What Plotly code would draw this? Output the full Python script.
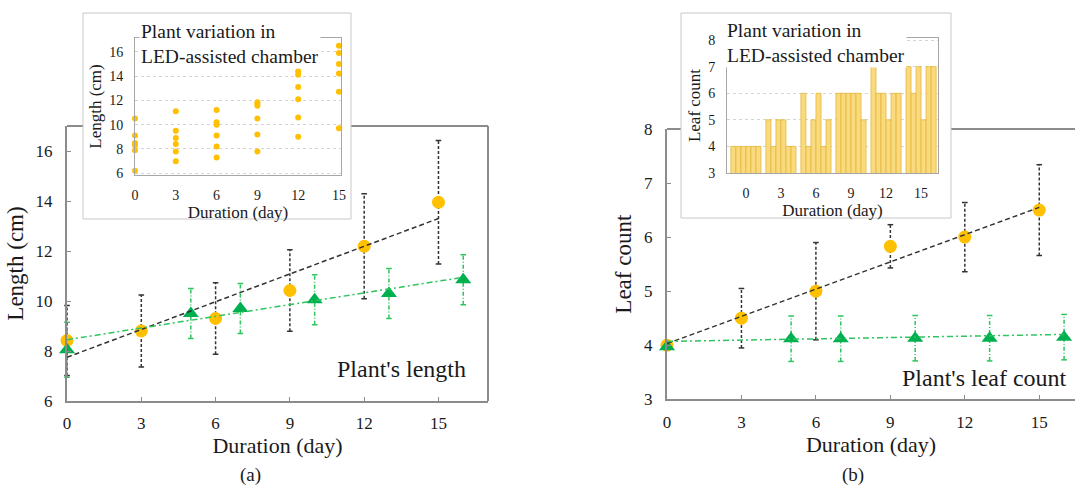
import plotly.graph_objects as go

W, H = 1075, 488

# ---------------- data ----------------
days = [0, 3, 6, 9, 12, 15]
ctrl_days = [0, 5, 7, 10, 13, 16]
tick_days = [0, 3, 6, 9, 12, 15]

# (a) plant length (cm)
led_length_mean = [8.42, 8.8, 9.3, 10.42, 12.19, 13.95]
led_length_sd = [1.4, 1.44, 1.43, 1.63, 2.1, 2.47]
ctrl_length_mean = [8.05, 9.5, 9.7, 10.05, 10.3, 10.85]
ctrl_length_sd = [1.1, 1.0, 1.0, 1.0, 1.0, 1.0]
led_length_trend_x = [0, 15]
led_length_trend_y = [7.75, 13.3]
ctrl_length_trend_x = [0, 16]
ctrl_length_trend_y = [8.45, 10.95]

# (a) inset: individual plant lengths in LED chamber
length_d0 = [10.5, 9.1, 8.5, 8.3, 7.9, 6.2]
length_d3 = [11.1, 9.5, 8.9, 8.4, 7.8, 7.0]
length_d6 = [11.2, 10.2, 10.0, 9.1, 8.2, 7.3]
length_d9 = [11.85, 11.7, 11.55, 10.5, 9.2, 7.8]
length_d12 = [14.4, 14.1, 13.1, 12.1, 10.6, 9.0]
length_d15 = [16.5, 15.9, 15.0, 14.2, 12.7, 9.7]

# (b) leaf count
led_leaf_mean = [4.0, 4.5, 5.0, 5.83, 6.0, 6.5]
led_leaf_sd = [0, 0.55, 0.9, 0.4, 0.64, 0.84]
ctrl_leaf_mean = [3.97, 4.12, 4.12, 4.13, 4.13, 4.15]
ctrl_leaf_sd = [0, 0.42, 0.42, 0.42, 0.42, 0.42]
led_leaf_trend_x = [0, 15]
led_leaf_trend_y = [4.03, 6.55]
ctrl_leaf_trend_x = [0, 16]
ctrl_leaf_trend_y = [4.07, 4.2]

# (b) inset: leaf count of each plant in LED chamber
leaf_d0 = [4, 4, 4, 4, 4, 4]
leaf_d3 = [5, 4, 5, 5, 4, 4]
leaf_d6 = [6, 4, 5, 6, 4, 5]
leaf_d9 = [6, 6, 6, 6, 6, 5]
leaf_d12 = [7, 6, 6, 5, 6, 6]
leaf_d15 = [7, 6, 7, 5, 7, 7]

# ---------------- style ----------------
FONT = "Liberation Serif"
TXT = "#1a1a1a"
YELLOW = "#FFC000"
GREEN = "#00B050"
GREEN_LINE = "#2EC45F"
BLACK_LINE = "#333333"
AXIS = "#8c8c8c"
INSET_AXIS = "#a6a6a6"
BAR_FILL = "#F9DA7E"
BAR_EDGE = "#E6B83A"


def px(x):
    return x / W


def py(y):
    return 1 - y / H


fig = go.Figure()


def errbars(xs, means, sds, color, dash, xa, ya):
    ex, ey, cx, cy = [], [], [], []
    for x, m, s in zip(xs, means, sds):
        if s <= 0:
            continue
        ex += [x, x, None]
        ey += [m - s, m + s, None]
        cx += [x, x]
        cy += [m - s, m + s]
    fig.add_trace(go.Scatter(x=ex, y=ey, mode="lines", xaxis=xa, yaxis=ya,
                             line=dict(color=color, width=1.5, dash=dash),
                             cliponaxis=False, hoverinfo="skip"))
    fig.add_trace(go.Scatter(x=cx, y=cy, mode="markers", xaxis=xa, yaxis=ya,
                             marker=dict(symbol="line-ew", size=4,
                                         line=dict(color=color, width=1.5)),
                             cliponaxis=False, hoverinfo="skip"))


def main_panel(xa, ya, led_m, led_s, ctrl_m, ctrl_s, tlx, tly, tcx, tcy):
    errbars(days, led_m, led_s, BLACK_LINE, "3px,2px", xa, ya)
    errbars(ctrl_days, ctrl_m, ctrl_s, GREEN_LINE, "4px,2px,1px,2px", xa, ya)
    fig.add_trace(go.Scatter(x=days, y=led_m, mode="markers", xaxis=xa, yaxis=ya,
                             marker=dict(color=YELLOW, size=13), cliponaxis=False))
    fig.add_trace(go.Scatter(x=ctrl_days, y=ctrl_m, mode="markers", xaxis=xa, yaxis=ya,
                             marker=dict(color=GREEN, size=14, symbol="triangle-up"),
                             cliponaxis=False))
    fig.add_trace(go.Scatter(x=tlx, y=tly, mode="lines", xaxis=xa, yaxis=ya,
                             line=dict(color=BLACK_LINE, width=1.5, dash="5px,3px"),
                             cliponaxis=False))
    fig.add_trace(go.Scatter(x=tcx, y=tcy, mode="lines", xaxis=xa, yaxis=ya,
                             line=dict(color=GREEN_LINE, width=1.5,
                                       dash="6px,3px,2px,3px"),
                             cliponaxis=False))


# (a) main
main_panel("x", "y", led_length_mean, led_length_sd, ctrl_length_mean, ctrl_length_sd,
           led_length_trend_x, led_length_trend_y, ctrl_length_trend_x, ctrl_length_trend_y)

# (a) inset scatter
for d, vals in zip(days, [length_d0, length_d3, length_d6, length_d9, length_d12, length_d15]):
    fig.add_trace(go.Scatter(x=[d] * len(vals), y=vals, mode="markers", xaxis="x2",
                             yaxis="y2", marker=dict(color=YELLOW, size=6),
                             cliponaxis=False))

# (b) main
main_panel("x3", "y3", led_leaf_mean, led_leaf_sd, ctrl_leaf_mean, ctrl_leaf_sd,
           led_leaf_trend_x, led_leaf_trend_y, ctrl_leaf_trend_x, ctrl_leaf_trend_y)

# (b) inset bars: one trace per plant, grouped by day
leaf_by_day = [leaf_d0, leaf_d3, leaf_d6, leaf_d9, leaf_d12, leaf_d15]
for p in range(6):
    fig.add_trace(go.Bar(x=days, y=[v[p] for v in leaf_by_day], xaxis="x4", yaxis="y4",
                         marker=dict(color=BAR_FILL, line=dict(color=BAR_EDGE, width=0.8))))

tickfont_main = dict(family=FONT, size=17, color=TXT)
tickfont_inset = dict(family=FONT, size=14, color=TXT)
xtitle_main = dict(family=FONT, size=22, color=TXT)
ytitle_main = dict(family=FONT, size=23, color=TXT)
xtitle_inset = dict(family=FONT, size=17, color=TXT)
ytitle_inset = dict(family=FONT, size=17, color=TXT)

main_x = dict(tickvals=tick_days, showline=True, linecolor=AXIS, linewidth=2,
              ticks="inside", ticklen=4, tickcolor=AXIS, showgrid=False, zeroline=False,
              tickfont=tickfont_main, ticklabelstandoff=6, automargin=False)
main_y = dict(showline=True, linecolor=AXIS, linewidth=2, ticks="inside", ticklen=4,
              tickcolor=AXIS, showgrid=False, zeroline=False, tickfont=tickfont_main,
              ticklabelstandoff=9, automargin=False)
inset_x = dict(tickvals=tick_days, showline=True, mirror=True, linecolor=INSET_AXIS,
               linewidth=1, ticks="", showgrid=False, zeroline=False,
               tickfont=tickfont_inset, ticklabelstandoff=7, automargin=False)
inset_y = dict(showline=True, mirror=True, linecolor=INSET_AXIS, linewidth=1, ticks="",
               showgrid=True, gridcolor="#d4d4d4", griddash="dot", gridwidth=1,
               zeroline=False, tickfont=tickfont_inset, ticklabelstandoff=8,
               automargin=False)

fig.update_layout(
    width=W, height=H, margin=dict(l=0, r=0, t=0, b=0, autoexpand=False),
    paper_bgcolor="white", plot_bgcolor="rgba(0,0,0,0)", showlegend=False,
    barmode="group", bargap=0.14, bargroupgap=0,
    font=dict(family=FONT, color=TXT),
    xaxis=dict(main_x, domain=[px(67), px(488)], range=[0, 17], anchor="y",
               title=dict(text="Duration (day)", font=xtitle_main, standoff=5)),
    yaxis=dict(main_y, domain=[py(401), py(126)], range=[6, 17], anchor="x",
               tickvals=[6, 8, 10, 12, 14, 16],
               title=dict(text="Length (cm)", font=ytitle_main, standoff=6)),
    xaxis2=dict(inset_x, domain=[px(135), px(341)], range=[0, 15.15], anchor="y2",
                title=dict(text="Duration (day)", font=xtitle_inset, standoff=1)),
    yaxis2=dict(inset_y, domain=[py(175), py(38)], range=[5.86, 17.13], anchor="x2",
                tickvals=[6, 8, 10, 12, 14, 16],
                title=dict(text="Length (cm)", font=ytitle_inset, standoff=3)),
    xaxis3=dict(main_x, domain=[px(667), 1.0], range=[0, 16.44], anchor="y3",
                title=dict(text="Duration (day)", font=xtitle_main, standoff=5)),
    yaxis3=dict(main_y, domain=[py(399.3), py(129)], range=[3, 8], anchor="x3",
                tickvals=[3, 4, 5, 6, 7, 8],
                title=dict(text="Leaf count", font=ytitle_main, standoff=6)),
    xaxis4=dict(inset_x, domain=[px(727), px(938)], range=[-1.62, 16.45], anchor="y4",
                title=dict(text="Duration (day)", font=xtitle_inset, standoff=1)),
    yaxis4=dict(inset_y, domain=[py(173), py(38)], range=[3, 8.08], anchor="x4",
                tickvals=[3, 4, 5, 6, 7, 8],
                title=dict(text="Leaf count", font=ytitle_inset, standoff=3)),
)

shapes = [
    # frames of main panels (top/right), below insets
    dict(type="line", xref="paper", yref="paper", x0=px(67), x1=px(488), y0=py(126), y1=py(126),
         line=dict(color=AXIS, width=2), layer="below"),
    dict(type="line", xref="paper", yref="paper", x0=px(488), x1=px(488), y0=py(126), y1=py(401),
         line=dict(color=AXIS, width=2), layer="below"),
    dict(type="line", xref="paper", yref="paper", x0=px(667), x1=1.0, y0=py(129), y1=py(129),
         line=dict(color=AXIS, width=2), layer="below"),
    # inset boxes
    dict(type="rect", xref="paper", yref="paper", x0=px(83), x1=px(351), y0=py(219), y1=py(13),
         fillcolor="white", line=dict(color="#c8c8c8", width=1), layer="below"),
    dict(type="rect", xref="paper", yref="paper", x0=px(681), x1=px(951), y0=py(218), y1=py(13),
         fillcolor="white", line=dict(color="#c8c8c8", width=1), layer="below"),
]
fig.update_layout(shapes=shapes)

ann = [
    dict(text="Plant variation in<br>LED-assisted chamber", x=px(139), y=py(44),
         xanchor="left", yanchor="middle", align="left", bgcolor="white", borderpad=1,
         font=dict(family=FONT, size=19.5, color=TXT)),
    dict(text="Plant variation in<br>LED-assisted chamber", x=px(725), y=py(43),
         xanchor="left", yanchor="middle", align="left", bgcolor="white", borderpad=1,
         font=dict(family=FONT, size=19.5, color=TXT)),
    dict(text="Plant's length", x=px(468), y=py(369), xanchor="right", yanchor="middle",
         font=dict(family=FONT, size=24, color=TXT)),
    dict(text="Plant's leaf count", x=px(1069), y=py(378), xanchor="right", yanchor="middle",
         font=dict(family=FONT, size=24, color=TXT)),
    dict(text="(a)", x=px(250), y=py(487), xanchor="center", yanchor="bottom", borderpad=0,
         font=dict(family=FONT, size=19, color=TXT)),
    dict(text="(b)", x=px(853), y=py(487), xanchor="center", yanchor="bottom", borderpad=0,
         font=dict(family=FONT, size=19, color=TXT)),
]
for a in ann:
    a.update(xref="paper", yref="paper", showarrow=False)
fig.update_layout(annotations=ann)

# the page body has a default 8px margin; remove it so the figure fills the window
fig.write_html("out.html", config={"displayModeBar": False, "staticPlot": True},
               post_script="document.body.style.margin='0';document.body.style.overflow='hidden';")
